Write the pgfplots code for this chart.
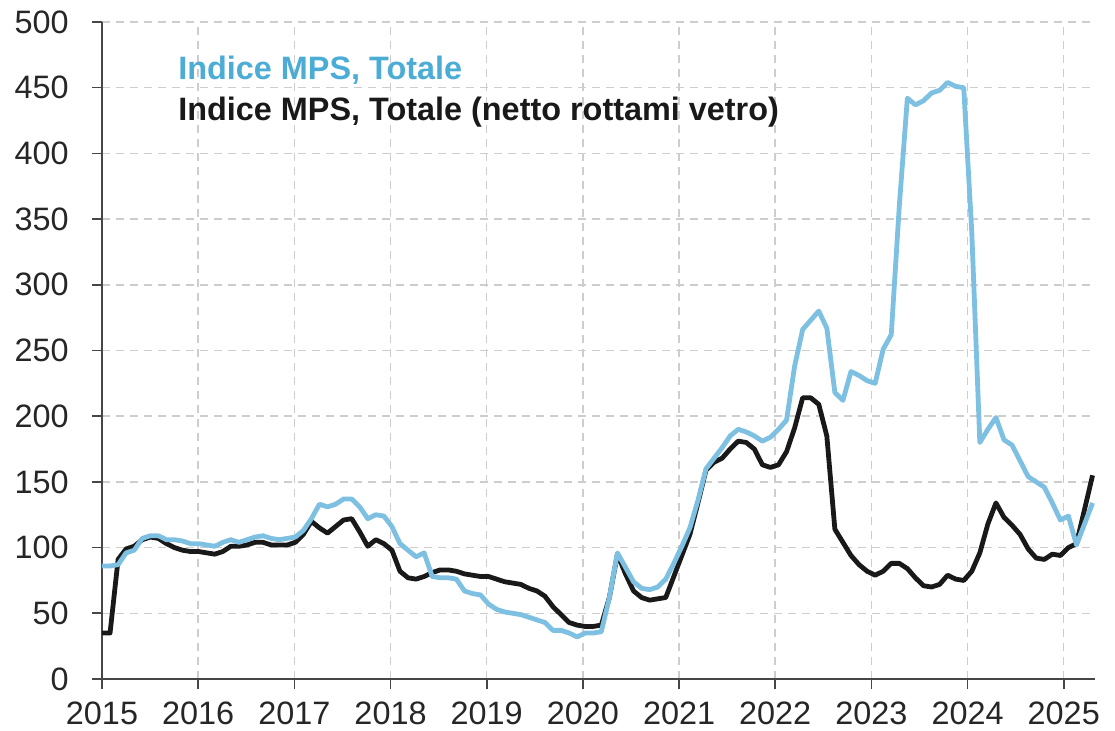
\documentclass[border=0pt]{standalone}
\usepackage{fontspec}
\setmainfont{Liberation Sans}
\usepackage{pgfplots}
\pgfplotsset{compat=1.18}
\usepackage{pgfplotstable}
\definecolor{mpsblue}{RGB}{125,192,225}
\definecolor{mpstext}{RGB}{75,172,214}
\definecolor{gridgray}{RGB}{205,205,205}
\definecolor{axisgray}{RGB}{70,70,70}

% i = monthly index (Jan 2015 = 0 ... Apr 2025 = 123); b = netto rottami vetro; l = totale
\pgfplotstableread{
i b l
0 35 86
1 35 86
2 91 87
3 99 96
4 101 98
5 106 107
6 108 109
7 107 109
8 103 106
9 100 106
10 98 105
11 97 103
12 97 103
13 96 102
14 95 101
15 97 104
16 101 106
17 101 104
18 102 106
19 104 108
20 104 109
21 102 107
22 102 106
23 102 107
24 104 108
25 110 113
26 120 122
27 115 133
28 111 131
29 116 133
30 121 137
31 122 137
32 112 131
33 101 122
34 106 125
35 103 124
36 98 116
37 82 103
38 77 98
39 76 93
40 78 96
41 81 78
42 83 77
43 83 77
44 82 76
45 80 67
46 79 65
47 78 64
48 78 57
49 76 53
50 74 51
51 73 50
52 72 49
53 69 47
54 67 45
55 63 43
56 55 37
57 49 37
58 43 35
59 41 32
60 40 35
61 40 35
62 41 36
63 62 62
64 95 96
65 80 85
66 67 74
67 62 69
68 60 68
69 61 70
70 62 76
71 78 88
72 94 101
73 110 115
74 134 136
75 159 160
76 165 168
77 168 176
78 175 185
79 181 190
80 180 188
81 175 185
82 163 181
83 161 184
84 163 190
85 173 197
86 191 238
87 214 266
88 214 273
89 209 280
90 185 267
91 114 218
92 104 212
93 94 234
94 87 231
95 82 227
96 79 225
97 82 251
98 88 262
99 88 360
100 84 442
101 77 437
102 71 440
103 70 446
104 72 448
105 79 454
106 76 451
107 75 450
108 82 340
109 96 180
110 118 190
111 134 199
112 123 182
113 117 178
114 110 166
115 99 154
116 92 150
117 91 146
118 95 134
119 94 121
120 100 124
121 103 102
122 129 118
123 155 134
}\datatab

\begin{document}
\begin{tikzpicture}
\begin{axis}[
  scale only axis,
  width=744.75pt, height=492.75pt,
  xmin=0, xmax=123.3, ymin=0, ymax=500,
  axis x line*=bottom, axis y line*=left,
  xtick={0,11.942,23.884,35.826,47.768,59.71,71.652,83.594,95.536,107.478,119.42},
  xticklabels={2015,2016,2017,2018,2019,2020,2021,2022,2023,2024,2025},
  ytick={0,50,...,500},
  minor tick num=0,
  tick align=outside,
  major tick length=7.5pt,
  grid=major,
  grid style={gridgray, line width=1.1pt, dash pattern=on 6pt off 4.5pt},
  axis line style={line width=1.2pt, axisgray},
  tick style={line width=1.2pt, axisgray},
  tick label style={font=\fontsize{24.3}{28}\selectfont, text=black!85},
  /pgf/number format/assume math mode=true,
  yticklabel style={xshift=-14pt},
  xticklabel style={yshift=-6.5pt},
  clip=false,
]
\addplot[draw=black!90, line width=3.6pt, line join=round] table[x=i, y=b] {\datatab};
\addplot[draw=mpsblue, line width=3.6pt, line join=round] table[x=i, y=l] {\datatab};
\node[anchor=base west, inner sep=0pt, text=mpstext, font=\bfseries\fontsize{24.3}{28}\selectfont] at (axis cs:9.44,455.9) {Indice MPS, Totale};
\node[anchor=base west, inner sep=0pt, text=black!90, font=\bfseries\fontsize{24.3}{28}\selectfont] at (axis cs:9.44,425.4) {Indice MPS, Totale (netto rottami vetro)};
\end{axis}
\pgfresetboundingbox
\path ([xshift=-76.5pt,yshift=-39pt]current axis.south west) rectangle ([xshift=15pt,yshift=16.5pt]current axis.north east);
\end{tikzpicture}
\end{document}
